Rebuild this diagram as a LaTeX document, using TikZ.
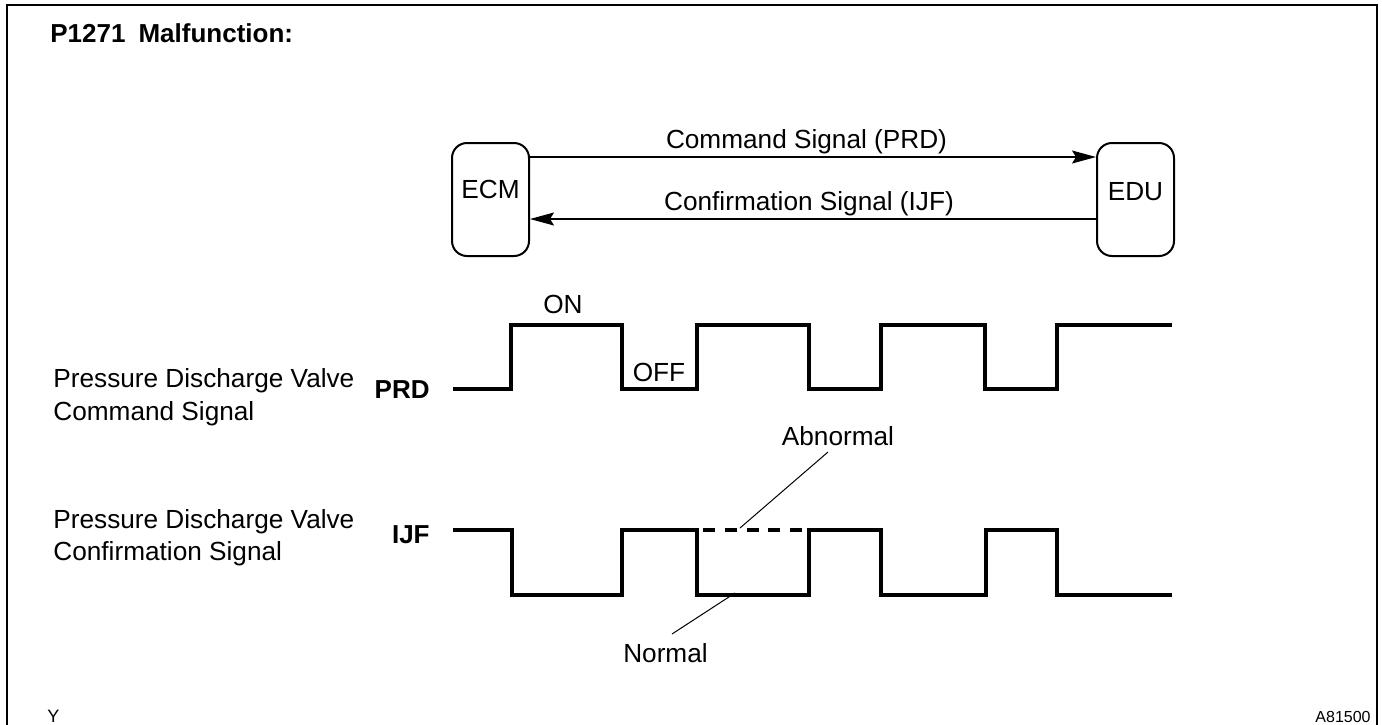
\documentclass[tikz,border=0pt]{standalone}
\usepackage{fontspec}
\setmainfont{Liberation Sans}
\usetikzlibrary{arrows.meta}
\tikzset{
  txt/.style={inner sep=0pt, font=\fontsize{13.1}{15.7}\selectfont},
  btxt/.style={inner sep=0pt, font=\fontsize{13}{15.6}\selectfont\bfseries},
  unitbox/.style={draw, line width=1pt, rounded corners=7.5pt, minimum width=38.5pt, minimum height=56.5pt, inner sep=0pt},
  sig/.style={line width=0.6pt, -{Stealth[length=12pt,width=6.5pt,inset=2pt]}},
  wave/.style={line width=1.7pt, line join=miter, line cap=butt},
  leader/.style={line width=0.5pt},
  frame/.style={line width=1.2pt}
}
\begin{document}
\begin{tikzpicture}[x=0.5pt,y=-0.5pt]
\useasboundingbox (0,0) rectangle (1382,724);
% frame
\draw[frame] (7,730) -- (7,5) -- (1377,5) -- (1377,730);
% title
\node[btxt, font=\fontsize{13}{15}\selectfont\bfseries, anchor=base west] (title) at (50,42) {P1271\hspace{0.5em}Malfunction:};
% units
\node[unitbox] (ecm) at (490.5,199.5) {};
\node[unitbox] (edu) at (1135.5,199.5) {};
\node[txt, anchor=base] (ecmlbl) at (490.5,198) {ECM};
\node[txt, anchor=base] (edulbl) at (1135.5,200) {EDU};
% signals
\coordinate (cmdy) at (0,157);
\coordinate (cnfy) at (0,219);
\draw[sig] (ecm.east |- cmdy) -- (edu.west |- cmdy);
\draw[sig] (edu.west |- cnfy) -- (ecm.east |- cnfy);
\node[txt, anchor=base] (cmdlbl) at (806.5,148) {Command Signal (PRD)};
\node[txt, anchor=base] (cnflbl) at (809,210) {Confirmation Signal (IJF)};
% PRD waveform
\draw[wave] (453,389) -- (511,389) -- (511,325) -- (622,325) -- (622,389) -- (697,389) -- (697,325) -- (809,325) -- (809,389) -- (881,389) -- (881,325) -- (985,325) -- (985,389) -- (1057,389) -- (1057,325) -- (1172,325);
\node[txt, anchor=base] (on) at (563,313) {ON};
\node[txt, anchor=base] (off) at (659,381) {OFF};
\node[txt, anchor=base west] (l1a) at (53,387) {Pressure Discharge Valve};
\node[txt, anchor=base west] (l1b) at (53,420) {Command Signal};
\node[btxt, anchor=base east] (prd) at (430,398) {PRD};
% IJF waveform
\draw[wave] (453,530) -- (512,530) -- (512,595) -- (622,595) -- (622,530) -- (697,530) -- (697,595) -- (809,595) -- (809,530) -- (881,530) -- (881,595) -- (986,595) -- (986,530) -- (1057,530) -- (1057,595) -- (1172,595);
\draw[wave, dash pattern=on 6pt off 4.875pt] (703,530) -- (802,530);
\node[txt, anchor=base west] (l2a) at (53,528) {Pressure Discharge Valve};
\node[txt, anchor=base west] (l2b) at (53,560) {Confirmation Signal};
\node[btxt, anchor=base east] (ijf) at (430,543) {IJF};
% annotations
\node[txt, anchor=base] (abn) at (838,445) {Abnormal};
\node[txt, anchor=base] (nrm) at (665.5,662) {Normal};
\coordinate (abnA) at (828,452);
\coordinate (abnB) at (740,528);
\coordinate (nrmA) at (735,593);
\coordinate (nrmB) at (672,634);
\draw[leader] (abnA) -- (abnB);
\draw[leader] (nrmA) -- (nrmB);
% corner marks
\node[inner sep=0pt, font=\fontsize{9}{11}\selectfont, anchor=base west] (ymark) at (47,722) {Y};
\node[inner sep=0pt, font=\fontsize{8}{10}\selectfont, anchor=base east] (code) at (1371,722) {A81500};
\end{tikzpicture}
\end{document}
